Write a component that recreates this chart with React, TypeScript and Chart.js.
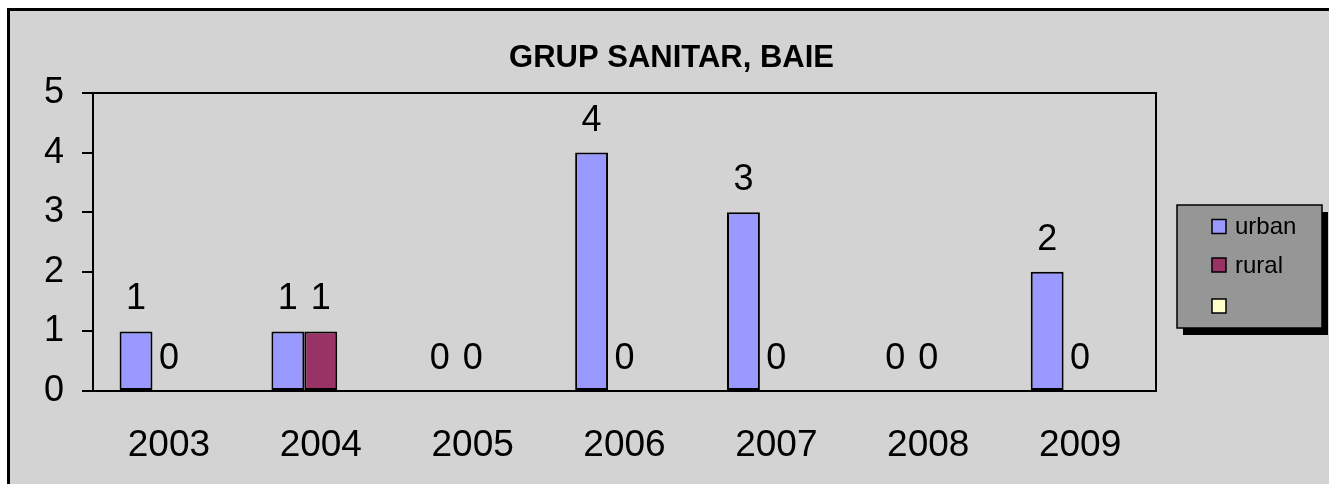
import React, { useEffect, useRef } from "react";
import { Chart, registerables } from "chart.js";

Chart.register(...registerables);

const categories = ["2003", "2004", "2005", "2006", "2007", "2008", "2009"];
const urbanValues = [1, 1, 0, 4, 3, 0, 2];
const ruralValues = [0, 1, 0, 0, 0, 0, 0];
const thirdValues: (number | null)[] = [null, null, null, null, null, null, null];
const seriesLabels = ["urban", "rural", ""];
const seriesColors = ["#9999FF", "#993366", "#FFFFCC"];
const labelledSeries = [true, true, false];
const yMin = 0;
const yMax = 5;
const yStep = 1;
const chartTitle = "GRUP SANITAR, BAIE";

const FONT = "Arial, 'Liberation Sans', sans-serif";
const W = 1329;
const H = 484;

const framePlugin = {
  id: "frame",
  beforeDraw(chart: any) {
    const ctx = chart.ctx;
    ctx.save();
    ctx.fillStyle = "#ffffff";
    ctx.fillRect(0, 0, W, H);
    ctx.fillStyle = "#d3d3d3";
    ctx.fillRect(7, 8, W, H);
    ctx.fillStyle = "#000000";
    ctx.fillRect(7, 8, 3, H);
    ctx.fillRect(7, 8, W, 3);
    ctx.restore();
  },
  afterDatasetsDraw(chart: any) {
    const ctx = chart.ctx;
    const a = chart.chartArea;
    ctx.save();
    ctx.strokeStyle = "#000000";
    ctx.lineWidth = 2;
    ctx.strokeRect(a.left, a.top, a.right - a.left, a.bottom - a.top);

    // data labels
    ctx.fillStyle = "#000000";
    ctx.font = `36px ${FONT}`;
    ctx.textAlign = "center";
    ctx.textBaseline = "alphabetic";
    chart.data.datasets.forEach((ds: any, i: number) => {
      if (!labelledSeries[i]) return;
      const meta = chart.getDatasetMeta(i);
      meta.data.forEach((el: any, j: number) => {
        const v = ds.data[j];
        if (v === null || v === undefined) return;
        ctx.fillText(String(v), el.x, el.y - 22);
      });
    });
    ctx.restore();
  },
  afterDraw(chart: any) {
    const ctx = chart.ctx;
    ctx.save();
    // title
    ctx.fillStyle = "#000000";
    ctx.font = `bold 31px ${FONT}`;
    ctx.textAlign = "center";
    ctx.textBaseline = "alphabetic";
    ctx.fillText(chartTitle, 671.5, 67);

    // legend
    const bx = 1177, by = 205, bw = 145, bh = 123;
    ctx.fillStyle = "#000000";
    ctx.fillRect(bx + 6, by + 7, bw, bh);
    ctx.fillStyle = "#969696";
    ctx.fillRect(bx, by, bw, bh);
    ctx.strokeStyle = "#000000";
    ctx.lineWidth = 1.5;
    ctx.strokeRect(bx, by, bw, bh);
    const rowY = [226.5, 265, 306];
    ctx.font = `24px ${FONT}`;
    ctx.textAlign = "left";
    ctx.textBaseline = "middle";
    chart.data.datasets.forEach((ds: any, i: number) => {
      const cy = rowY[i];
      ctx.fillStyle = ds.backgroundColor;
      ctx.fillRect(1212, cy - 7, 14, 14);
      ctx.lineWidth = 1.5;
      ctx.strokeStyle = "#000000";
      ctx.strokeRect(1212, cy - 7, 14, 14);
      ctx.fillStyle = "#000000";
      if (ds.label) ctx.fillText(ds.label, 1235, cy + 1);
    });
    ctx.restore();
  },
};

export default function App() {
  const ref = useRef<HTMLCanvasElement | null>(null);
  useEffect(() => {
    if (!ref.current) return;
    const seriesData = [urbanValues, ruralValues, thirdValues];
    const chart = new Chart(ref.current, {
      type: "bar",
      data: {
        labels: categories,
        datasets: seriesData.map((d, i) => ({
          label: seriesLabels[i],
          data: d,
          backgroundColor: seriesColors[i],
          borderColor: "#000000",
          borderWidth: 2,
          borderSkipped: false,
          categoryPercentage: 0.65,
          barPercentage: 1.0,
        })),
      },
      options: {
        animation: false,
        responsive: false,
        devicePixelRatio: 1,
        layout: { padding: { left: 13, top: 93, right: 173, bottom: 0 } },
        plugins: {
          legend: { display: false },
          title: { display: false },
          tooltip: { enabled: false },
        },
        scales: {
          x: {
            grid: { display: false, drawTicks: false },
            border: { display: false },
            ticks: {
              color: "#000000",
              font: { family: FONT, size: 37 },
              padding: 33,
              maxRotation: 0,
            },
            afterFit(scale: any) {
              scale.height = 93;
            },
          },
          y: {
            min: yMin,
            max: yMax,
            grid: {
              display: true,
              drawOnChartArea: false,
              drawTicks: true,
              tickLength: 11,
              color: "#000000",
              lineWidth: 2,
            },
            border: { display: false },
            ticks: {
              stepSize: yStep,
              color: "#000000",
              font: { family: FONT, size: 36 },
              padding: 18,
            },
            afterFit(scale: any) {
              scale.width = 80;
            },
          },
        },
      },
      plugins: [framePlugin],
    });
    return () => chart.destroy();
  }, []);
  return (
    <div style={{ position: "fixed", left: 0, top: 0, width: W, height: H, background: "#fff" }}>
      <canvas ref={ref} width={W} height={H} style={{ display: "block", width: W, height: H }} />
    </div>
  );
}
